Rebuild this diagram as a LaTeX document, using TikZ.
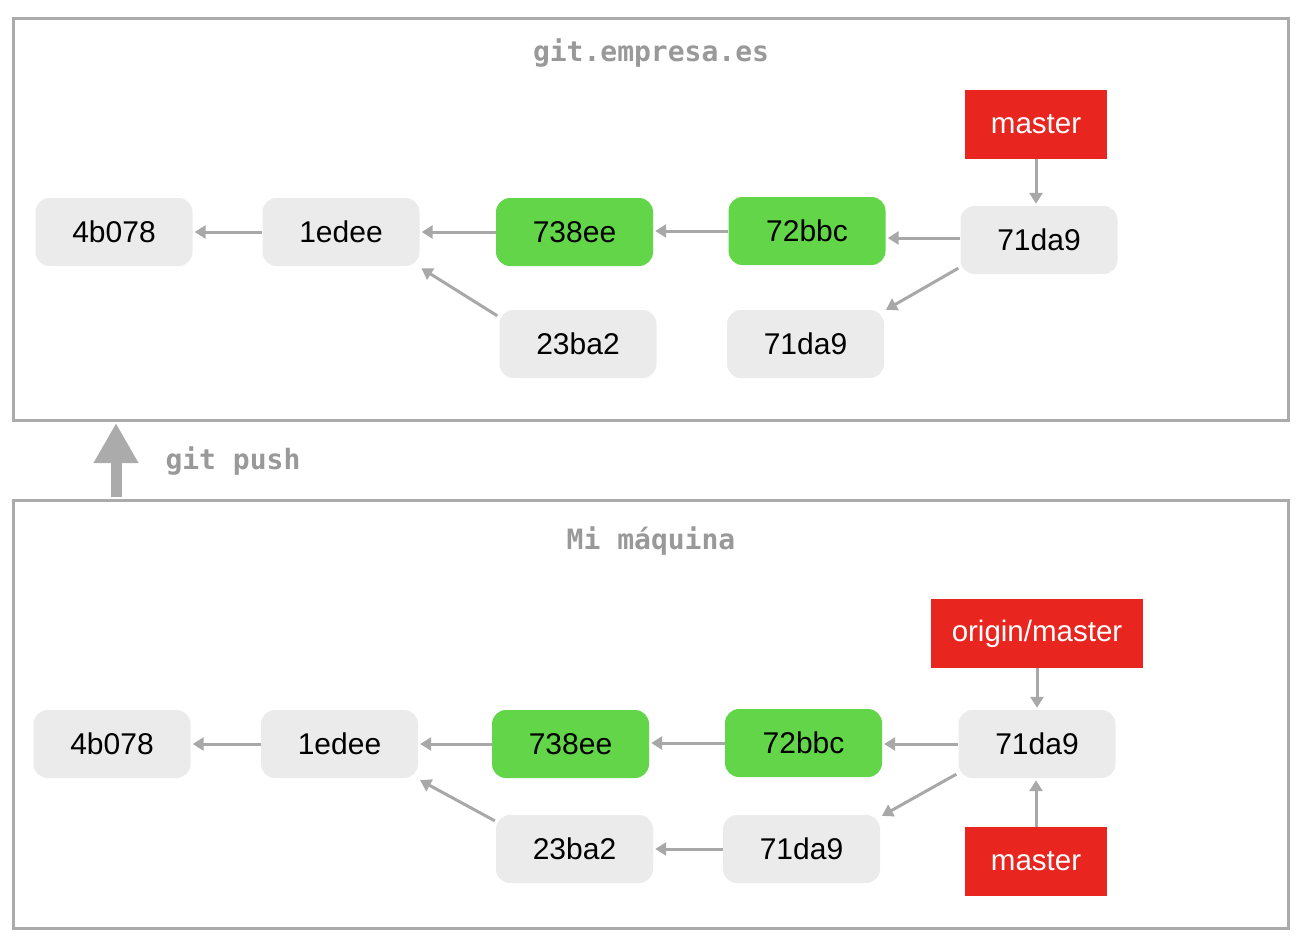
\documentclass[tikz,border=0pt]{standalone}
\usepackage{fontspec}
\setmainfont{Liberation Sans}
\setmonofont{DejaVu Sans Mono}
\usetikzlibrary{arrows.meta,calc}
\definecolor{framegray}{HTML}{ABABAB}
\definecolor{titlegray}{HTML}{999999}
\definecolor{commitgray}{HTML}{EBEBEB}
\definecolor{commitgreen}{HTML}{62D548}
\definecolor{refred}{HTML}{E8251F}
\definecolor{linkgray}{HTML}{A8A8A8}
\begin{document}
\begin{tikzpicture}[x=1pt,y=-1pt,
  frame/.style={draw=framegray,line width=3pt},
  title/.style={font=\ttfamily\bfseries\fontsize{28}{32}\selectfont,text=titlegray},
  commit/.style={fill=commitgray,rounded corners=14pt,minimum width=157pt,minimum height=68pt,inner sep=0pt,font=\fontsize{30}{36}\selectfont},
  newcommit/.style={commit,fill=commitgreen},
  ref/.style={fill=refred,text=white,minimum height=69pt,inner sep=0pt,font=\fontsize{29.5}{36}\selectfont},
  link/.style={draw=linkgray,line width=3pt,-{Triangle[length=11pt,width=13pt]},shorten >=2pt}
]
\useasboundingbox (0,0) rectangle (1314,948);

% server frame
\draw[frame] (13,18) rectangle (1288,420);
\node[title] (ttitle) at (651,53) {git.empresa.es};

\node[commit] (t4b) at (114,232) {4b078};
\node[commit] (t1e) at (341,232) {1edee};
\node[newcommit] (t73) at (574.5,232) {738ee};
\node[newcommit] (t72) at (807,231) {72bbc};
\node[commit] (t71) at (1039,240) {71da9};
\node[commit] (t23) at (578,344) {23ba2};
\node[commit] (t71b) at (805.5,344) {71da9};
\node[ref,minimum width=142pt] (tmaster) at (1036,124.5) {master};

\draw[link] (t1e.west) -- (t4b.east);
\draw[link] (t73.west) -- (t1e.east);
\draw[link] (t72.west) -- (t72.west -| t73.east);
\draw[link] ([yshift=2pt]t71.west) -- ([yshift=2pt]t72.east |- t71.west);
\draw[link] ([shift={(-2pt,6pt)}]t71.south west) -- ([shift={(0pt,-1pt)}]t71b.north east);
\draw[link] ([shift={(-2pt,-6pt)}]t23.north west) -- ([shift={(0pt,-1pt)}]t1e.south east);
\draw[link] (tmaster.south) -- (tmaster.south |- t71.north);

% push arrow
\node[title,anchor=west] (push) at (162,461) {git push};
\coordinate (pushfoot) at (116,497);
\coordinate (pushtip) at (116,423);
\draw[draw=framegray,line width=11pt,-{Triangle[length=40pt,width=42pt]}] (pushfoot) -- (pushtip);

% local frame
\draw[frame] (13,500) rectangle (1288,928);
\node[title] (btitle) at (651,541) {Mi máquina};

\node[commit] (b4b) at (112,744) {4b078};
\node[commit] (b1e) at (339.5,744) {1edee};
\node[newcommit] (b73) at (570.5,744) {738ee};
\node[newcommit] (b72) at (803.5,743) {72bbc};
\node[commit] (b71) at (1037,744) {71da9};
\node[commit] (b23) at (574.5,849) {23ba2};
\node[commit] (b71b) at (801.5,849) {71da9};
\node[ref,minimum width=212pt] (borigin) at (1037,633.5) {origin/master};
\node[ref,minimum width=142pt] (bmaster) at (1036,861.5) {master};

\draw[link] (b1e.west) -- (b4b.east);
\draw[link] (b73.west) -- (b1e.east);
\draw[link] (b72.west) -- (b72.west -| b73.east);
\draw[link] (b71.west) -- (b72.east |- b71.west);
\draw[link] ([shift={(-2pt,4pt)}]b71.south west) -- ([shift={(0pt,-2pt)}]b71b.north east);
\draw[link] ([shift={(-1pt,-6pt)}]b23.north west) -- ([shift={(0pt,-1pt)}]b1e.south east);
\draw[link] (b71b.west) -- (b23.east);
\draw[link] (borigin.south) -- (borigin.south |- b71.north);
\draw[link] (bmaster.north) -- (bmaster.north |- b71.south);
\end{tikzpicture}
\end{document}
